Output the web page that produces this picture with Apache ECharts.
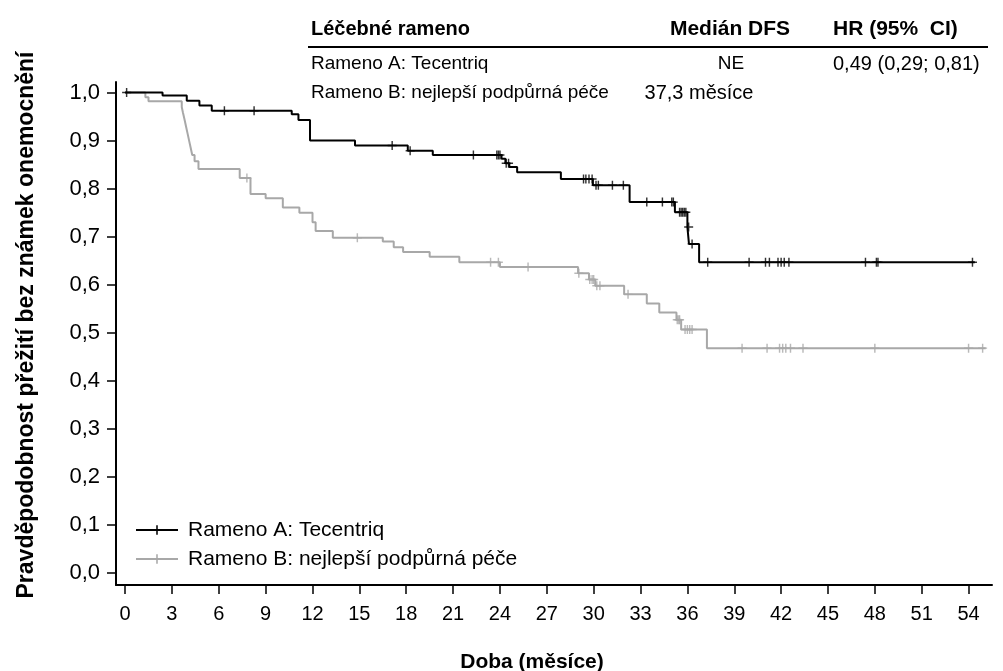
<!DOCTYPE html>
<html>
<head>
<meta charset="utf-8">
<script src="https://cdn.jsdelivr.net/npm/echarts@6/dist/echarts.min.js"></script>
<style>
html,body{margin:0;padding:0;background:#fff;}
#chart{width:1003px;height:671px;}
</style>
</head>
<body>
<div id="chart"></div>
<script>
// ---- data ----
var armA_name = 'Rameno A: Tecentriq';
var armB_name = 'Rameno B: nejlepší podpůrná péče';

var armA_time = [0, 2.4, 3.95, 4.76, 5.55, 10.67, 11.1, 11.84, 14.72, 18.1, 19.7, 24.1, 24.35, 24.6, 25.1, 27.9, 29.95, 32.3, 35.2, 36.0, 36.1, 36.75, 54.4];
var armA_surv = [1.0, 0.994, 0.983, 0.973, 0.962, 0.955, 0.943, 0.90, 0.89, 0.879, 0.870, 0.862, 0.853, 0.845, 0.834, 0.820, 0.807, 0.772, 0.751, 0.720, 0.685, 0.647, 0.647];
var armA_cens = [0.1, 6.36, 8.26, 17.1, 18.25, 22.3, 23.8, 23.9, 24.0, 24.4, 24.55, 29.35, 29.5, 29.7, 29.9, 30.15, 30.3, 31.2, 31.9, 33.4, 34.4, 35.0, 35.1, 35.5, 35.6, 35.7, 35.8, 35.9, 36.08, 36.3, 37.3, 39.95, 41.0, 41.25, 41.8, 42.0, 42.2, 42.5, 47.4, 48.1, 48.2, 54.25];

var armB_time = [0, 1.3, 1.5, 3.63, 3.7, 3.8, 3.9, 4.0, 4.1, 4.2, 4.3, 4.45, 4.7, 7.34, 8.03, 9.0, 10.1, 11.16, 12.0, 12.2, 13.3, 16.5, 17.2, 17.8, 19.5, 21.4, 24.0, 29.0, 29.7, 30.1, 31.95, 33.4, 34.2, 35.3, 35.6, 37.25, 55.1];
var armB_surv = [1.0, 0.990, 0.982, 0.970, 0.959, 0.945, 0.930, 0.915, 0.900, 0.885, 0.870, 0.857, 0.841, 0.822, 0.789, 0.780, 0.761, 0.750, 0.730, 0.712, 0.698, 0.690, 0.678, 0.668, 0.658, 0.647, 0.637, 0.624, 0.611, 0.598, 0.580, 0.561, 0.542, 0.527, 0.507, 0.468, 0.468];
var armB_cens = [7.8, 14.87, 23.4, 23.9, 25.8, 29.05, 29.75, 29.9, 30.0, 30.2, 30.4, 32.2, 35.35, 35.45, 35.5, 35.85, 36.0, 36.15, 36.3, 39.5, 41.1, 41.9, 42.1, 42.3, 42.6, 43.4, 48.0, 54.0, 54.9];

var xTicks = [0, 3, 6, 9, 12, 15, 18, 21, 24, 27, 30, 33, 36, 39, 42, 45, 48, 51, 54];
var yTicks = [0, 0.1, 0.2, 0.3, 0.4, 0.5, 0.6, 0.7, 0.8, 0.9, 1.0];

var xTitle = 'Doba (měsíce)';
var yTitle = 'Pravděpodobnost přežití bez známek onemocnění';

var tableHeader = ['Léčebné rameno', 'Medián DFS', 'HR (95%  CI)'];
var tableRowA = ['Rameno A: Tecentriq', 'NE', '0,49 (0,29; 0,81)'];
var tableRowB = ['Rameno B: nejlepší podpůrná péče', '37,3 měsíce', ''];

// ---- build ----
var FONT = "'Liberation Sans', Arial, sans-serif";
var BLACK = '#000000';
var GRAY = '#a8a8a8';
var PLUS = 'path://M4.2,0H5.8V4.2H10V5.8H5.8V10H4.2V5.8H0V4.2H4.2Z';

function pairs(t, s) { return t.map(function (v, i) { return [v, s[i]]; }); }
function survAt(t, s, c) {
  var v = s[0];
  for (var i = 0; i < t.length; i++) { if (t[i] <= c) v = s[i]; }
  return v;
}
function censPts(t, s, c) { return c.map(function (x) { return [x, survAt(t, s, x)]; }); }
function txt(x, y, text, font, align) {
  return { type: 'text', x: x, y: y, style: { text: text, fill: BLACK, font: font, textAlign: align || 'left', textVerticalAlign: 'middle' } };
}

var chart = echarts.init(document.getElementById('chart'), null, { renderer: 'canvas' });
var RF = '19px ' + FONT;

var option = {
  animation: false,
  backgroundColor: '#ffffff',
  grid: { left: 116, right: 11, top: 82, bottom: 86, containLabel: false },
  xAxis: {
    type: 'value', min: -0.58, max: 55.5,
    splitLine: { show: false },
    axisLine: { show: true, onZero: false, lineStyle: { color: BLACK, width: 2 } },
    axisTick: { show: true, length: 9, customValues: xTicks, lineStyle: { color: BLACK, width: 1.5 } },
    axisLabel: { customValues: xTicks, margin: 19, color: BLACK, fontFamily: FONT, fontSize: 20 }
  },
  yAxis: {
    type: 'value', min: -0.025, max: 1.022,
    splitLine: { show: false },
    axisLine: { show: true, onZero: false, lineStyle: { color: BLACK, width: 2 } },
    axisTick: { show: true, length: 9, customValues: yTicks, lineStyle: { color: BLACK, width: 1.5 } },
    axisLabel: {
      customValues: yTicks, margin: 16, color: BLACK, fontFamily: FONT, fontSize: 22,
      formatter: function (v) { return v.toFixed(1).replace('.', ','); }
    }
  },
  legend: {
    orient: 'vertical', left: 135, top: 518, padding: 0,
    itemWidth: 42, itemHeight: 12, itemGap: 5,
    textStyle: { color: BLACK, fontFamily: FONT, fontSize: 21, lineHeight: 24, padding: [0, 0, 0, 5] },
    data: [armA_name, armB_name]
  },
  series: [
    {
      name: armB_name, type: 'line', step: 'end', data: pairs(armB_time, armB_surv),
      symbol: PLUS, symbolSize: 9, showSymbol: false,
      lineStyle: { color: GRAY, width: 2 }, itemStyle: { color: GRAY }, z: 2
    },
    {
      name: armA_name, type: 'line', step: 'end', data: pairs(armA_time, armA_surv),
      symbol: PLUS, symbolSize: 9, showSymbol: false,
      lineStyle: { color: BLACK, width: 2 }, itemStyle: { color: BLACK }, z: 4
    },
    {
      name: 'cB', type: 'scatter', data: censPts(armB_time, armB_surv, armB_cens),
      symbol: PLUS, symbolSize: 9, itemStyle: { color: GRAY }, silent: true, z: 3
    },
    {
      name: 'cA', type: 'scatter', data: censPts(armA_time, armA_surv, armA_cens),
      symbol: PLUS, symbolSize: 9, itemStyle: { color: BLACK }, silent: true, z: 5
    }
  ],
  graphic: [
    { type: 'text', x: 27, y: 325, rotation: Math.PI / 2,
      style: { text: yTitle, fill: BLACK, font: 'bold 23px ' + FONT, textAlign: 'center', textVerticalAlign: 'middle' } },
    txt(532, 662, xTitle, 'bold 21px ' + FONT, 'center'),
    txt(311, 29, tableHeader[0], 'bold 20px ' + FONT, 'left'),
    txt(730, 29, tableHeader[1], 'bold 21px ' + FONT, 'center'),
    txt(833, 29, tableHeader[2], 'bold 21px ' + FONT, 'left'),
    { type: 'line', shape: { x1: 308, y1: 47, x2: 988, y2: 47 }, style: { stroke: BLACK, lineWidth: 2 } },
    txt(311, 64, tableRowA[0], RF, 'left'),
    txt(731, 64, tableRowA[1], RF, 'center'),
    txt(833, 64, tableRowA[2], '20px ' + FONT, 'left'),
    txt(311, 93, tableRowB[0], RF, 'left'),
    txt(699, 93, tableRowB[1], '20px ' + FONT, 'center')
  ]
};
chart.setOption(option);
</script>
</body>
</html>
